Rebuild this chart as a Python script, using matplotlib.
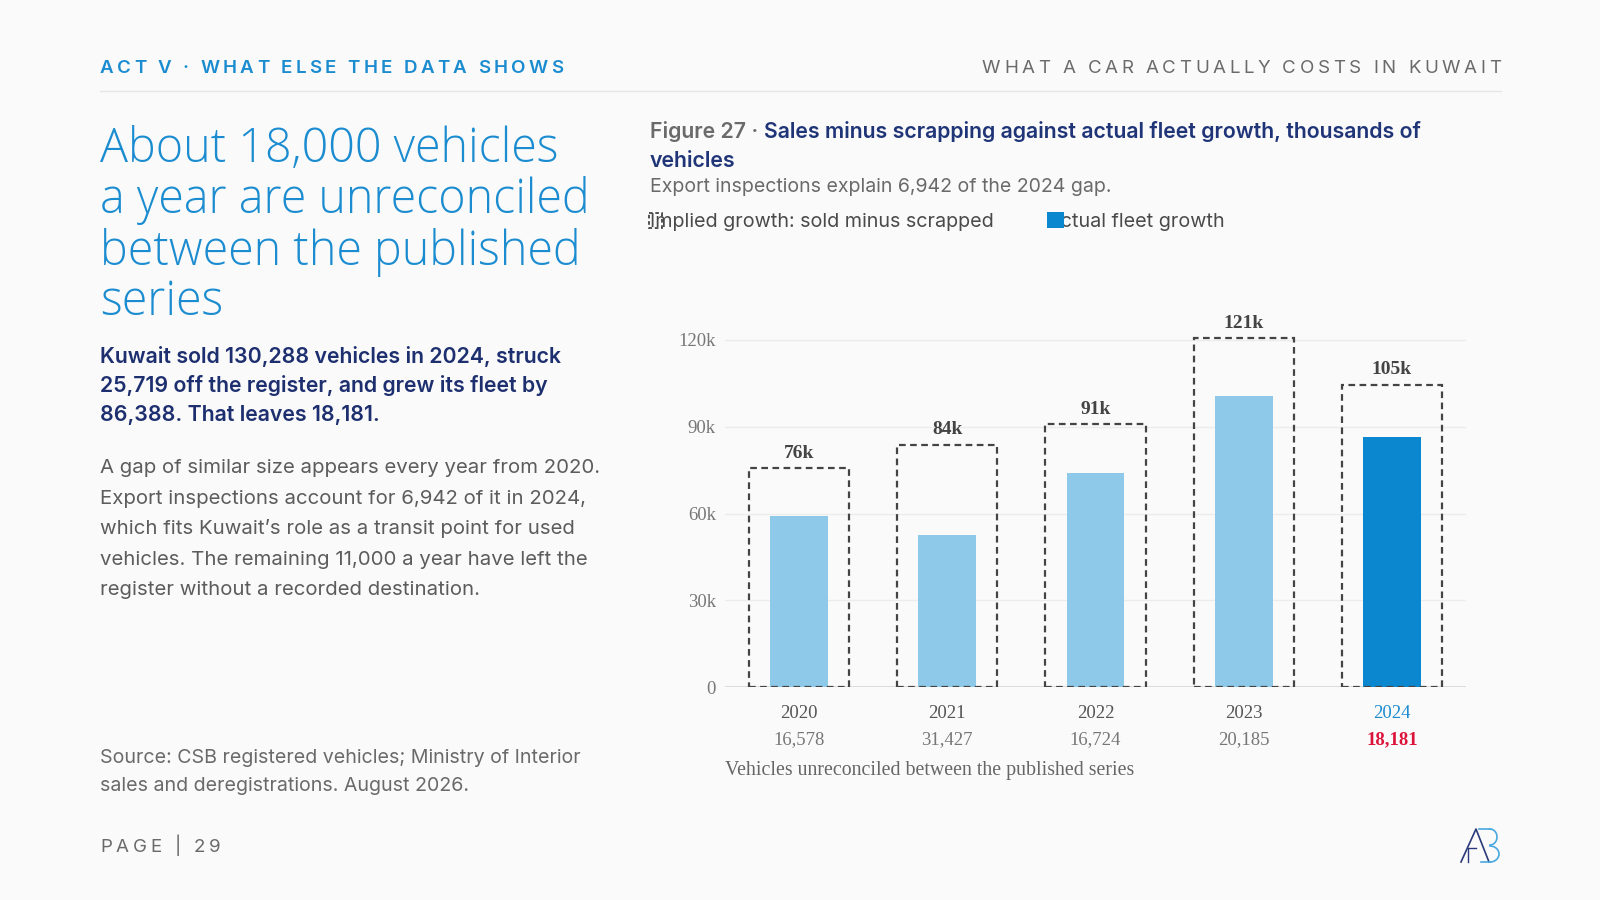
import matplotlib
matplotlib.use("Agg")
import matplotlib.pyplot as plt
from matplotlib.patches import Rectangle
import numpy as np

# ---------------- data ----------------
years = ["2020", "2021", "2022", "2023", "2024"]
implied_growth = [75.8, 83.8, 90.8, 120.7, 104.6]     # thousands, sold minus scrapped
actual_growth = [59.2, 52.4, 74.1, 100.5, 86.4]       # thousands, actual fleet growth
implied_labels = ["76k", "84k", "91k", "121k", "105k"]
gap_labels = ["16,578", "31,427", "16,724", "20,185", "18,181"]
yticks = [0, 30, 60, 90, 120]
ytick_labels = ["0", "30k", "60k", "90k", "120k"]

# ---------------- colours / fonts ----------------
BG = "#fafafa"
BLUE = "#1b8cd0"
NAVY = "#1d2f6f"
NAVY2 = "#1f3578"
GREY = "#5c5c5c"
GREY2 = "#6a6a6a"
LIGHT_BAR = "#8ec9ea"
DARK_BAR = "#0a87cf"
RED = "#dc143c"
SANS = ["Inter", "DejaVu Sans"]
SERIF = ["Liberation Serif", "DejaVu Serif"]
DISPLAY = ["Open Sans", "DejaVu Sans"]

W, H = 1600, 900
fig = plt.figure(figsize=(16, 9), dpi=100, facecolor=BG)

# overlay in pixel coordinates
ov = fig.add_axes([0, 0, 1, 1], zorder=5)
ov.set_xlim(0, W)
ov.set_ylim(H, 0)
ov.axis("off")
ov.patch.set_alpha(0)

renderer = fig.canvas.get_renderer()


def text_w(s, **kw):
    t = ov.text(0, 0, s, **kw)
    w = t.get_window_extent(renderer).width
    t.remove()
    return w


def fit(s, target, fs0=14, **kw):
    return fs0 * target / text_w(s, fontsize=fs0, **kw)


def spaced(s, x0, x1, y, fs, **kw):
    ws = [text_w("H" + c + "H", fontsize=fs, **kw) - text_w("HH", fontsize=fs, **kw) for c in s]
    track = ((x1 - x0) - sum(ws)) / (len(s) - 1)
    x = x0
    for c, w in zip(s, ws):
        if c != " ":
            ov.text(x, y, c, fontsize=fs, ha="left", va="baseline", **kw)
        x += w + track


# ---------------- header ----------------
spaced("ACT V · WHAT ELSE THE DATA SHOWS", 100, 563, 73, 13.5,
       family=SANS, color=BLUE, fontweight="semibold")
spaced("WHAT A CAR ACTUALLY COSTS IN KUWAIT", 982, 1501, 73, 13.5,
       family=SANS, color=GREY2)
ov.plot([100, 1501], [91, 91], color="#e6e6e6", lw=1)

# ---------------- left column ----------------
title_lines = ["About 18,000 vehicles", "a year are unreconciled",
               "between the published", "series"]
tkw = dict(family=DISPLAY, fontweight="light", color=BLUE)
tfs = fit(title_lines[1], 490, 30, **tkw)
for ln, yb in zip(title_lines, [162, 213, 265, 315]):
    ov.text(100, yb, ln, fontsize=tfs, va="baseline", ha="left", **tkw)

sub_lines = ["Kuwait sold 130,288 vehicles in 2024, struck",
             "25,719 off the register, and grew its fleet by",
             "86,388. That leaves 18,181."]
skw = dict(family=SANS, fontweight="semibold", color=NAVY)
sfs = fit(sub_lines[0], 462, 14, **skw)
for ln, yb in zip(sub_lines, [363, 392, 421]):
    ov.text(100, yb, ln, fontsize=sfs, va="baseline", ha="left", **skw)

body_lines = ["A gap of similar size appears every year from 2020.",
              "Export inspections account for 6,942 of it in 2024,",
              "which fits Kuwait\u2019s role as a transit point for used",
              "vehicles. The remaining 11,000 a year have left the",
              "register without a recorded destination."]
bkw = dict(family=SANS, color=GREY)
bfs = fit(body_lines[0], 500, 14, **bkw)
for ln, yb in zip(body_lines, [473, 504, 534, 565, 595]):
    ov.text(100, yb, ln, fontsize=bfs, va="baseline", ha="left", **bkw)

src_lines = ["Source: CSB registered vehicles; Ministry of Interior",
             "sales and deregistrations. August 2026."]
ckw = dict(family=SANS, color=GREY2)
cfs = fit(src_lines[0], 480, 13, **ckw)
for ln, yb in zip(src_lines, [763, 791]):
    ov.text(100, yb, ln, fontsize=cfs, va="baseline", ha="left", **ckw)

spaced("PAGE | 29", 100, 221, 852, 13.5, family=SANS, color=GREY2)

# ---------------- chart header ----------------
p1 = "Figure 27 · "
p2 = "Sales minus scrapping against actual fleet growth, thousands of"
hkw = dict(family=SANS, fontweight="semibold")
hfs = fit(p1 + p2, 775, 15, **hkw)
ov.text(650, 138, p1, fontsize=hfs, va="baseline", ha="left", color=GREY2, **hkw)
w1 = text_w(p1 + "S", fontsize=hfs, **hkw) - text_w("S", fontsize=hfs, **hkw)
ov.text(650 + w1, 138, p2, fontsize=hfs, va="baseline", ha="left", color=NAVY2, **hkw)
ov.text(650, 167, "vehicles", fontsize=hfs, va="baseline", ha="left", color=NAVY2, **hkw)

sub = "Export inspections explain 6,942 of the 2024 gap."
gfs = fit(sub, 462, 14, family=SANS)
ov.text(650, 192, sub, fontsize=gfs, va="baseline", ha="left", color=GREY2, family=SANS)

# legend (marker drawn over the first letter, as in the reference)
leg1 = "Implied growth: sold minus scrapped"
leg2 = "Actual fleet growth"
lfs = fit(leg1, 345, 14, family=SANS)
ov.text(650, 227, leg1, fontsize=lfs, va="baseline", ha="left", color="#4a4a4a", family=SANS)
ov.text(1047, 227, leg2, fontsize=lfs, va="baseline", ha="left", color="#4a4a4a", family=SANS)
ov.add_patch(Rectangle((649, 213), 13, 15, fill=False, edgecolor="#444444",
                       lw=1.3, ls=(0, (2, 1.5)), zorder=6))
ov.add_patch(Rectangle((1047, 212), 17, 16, facecolor=DARK_BAR, edgecolor="none", zorder=6))

# ---------------- chart ----------------
px_per_k = (687 - 340) / 120.0
ymax = 130
ax_h = ymax * px_per_k
ax = fig.add_axes([725 / W, (H - 687) / H, (1466 - 725) / W, ax_h / H], zorder=2)
ax.set_facecolor("none")
x = list(range(len(years)))
bar_colors = [LIGHT_BAR] * (len(years) - 1) + [DARK_BAR]
ax.bar(x, actual_growth, width=0.39, color=bar_colors, zorder=2)
ax.bar(x, implied_growth, width=0.675, fill=False, edgecolor="#444444",
       linewidth=1.6, linestyle=(0, (3, 2)), zorder=3)
for xi, v, lab in zip(x, implied_growth, implied_labels):
    ax.annotate(lab, (xi, v), xytext=(0, 4.5), textcoords="offset points",
                ha="center", va="bottom", fontsize=14, fontweight="bold",
                family=SERIF, color="#444444")

ax.set_xlim(-0.5, len(years) - 0.5)
ax.set_ylim(0, ymax)
ax.set_yticks(yticks)
ax.set_yticklabels(ytick_labels, family=SERIF, fontsize=13.5, color="#777777")
ax.set_xticks([])
ax.tick_params(axis="y", length=0, pad=6.5)
for s in ax.spines.values():
    s.set_visible(False)
ax.grid(axis="y", color="#ececec", lw=1, zorder=0)
ax.axhline(0, color="#d6d6d6", lw=1.3, zorder=1)


def ay(py):
    return (687 - py) / ax_h


tr = ax.get_xaxis_transform()
for i, (yr, g) in enumerate(zip(years, gap_labels)):
    last = i == len(years) - 1
    ax.text(i, ay(713), yr, transform=tr, ha="center", va="center", family=SERIF,
            fontsize=13.5, color=BLUE if last else "#555555")
    ax.text(i, ay(740), g, transform=tr, ha="center", va="center", family=SERIF,
            fontsize=13.5, color=RED if last else "#777777",
            fontweight="bold" if last else "normal")
cap = "Vehicles unreconciled between the published series"
capfs = fit(cap, 409, 13.5, family=SERIF)
ax.text(0.0, ay(770), cap, transform=ax.transAxes, ha="left", va="center",
        family=SERIF, fontsize=capfs, color="#666666")

# ---------------- logo ----------------
ov.plot([1461, 1476, 1489], [862, 829, 862], color="#2a3a7a", lw=1.2)
ov.plot([1468, 1468, 1476], [862, 848, 848], color="#2a3a7a", lw=1.0)
ov.plot([1479, 1490], [829, 829], color="#4aa8e0", lw=1.2)
th = np.linspace(np.pi / 2, -np.pi / 2, 30)
ov.plot(1490 + 7 * np.cos(th), 837 + 8 * np.sin(th) * -1, color="#4aa8e0", lw=1.2)
ov.plot(1490 + 9 * np.cos(th), 854 + 8 * np.sin(th) * -1, color="#4aa8e0", lw=1.2)
ov.plot([1481, 1490], [862, 862], color="#4aa8e0", lw=1.2)

fig.savefig("out.png", dpi=100, facecolor=BG)
